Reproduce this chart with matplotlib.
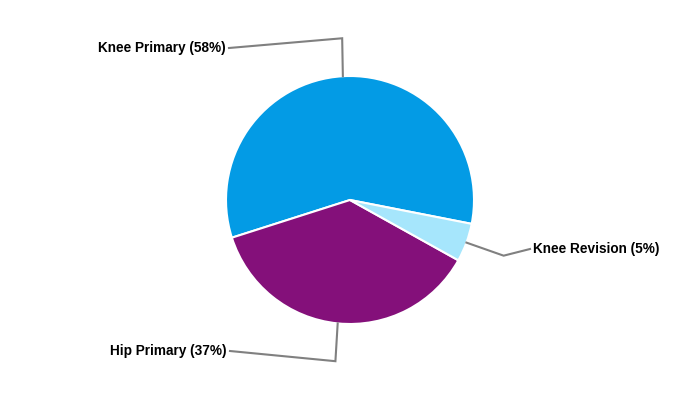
import numpy as np
import matplotlib
matplotlib.use("Agg")
import matplotlib.pyplot as plt

labels = ["Knee Primary", "Hip Primary", "Knee Revision"]
shares = [58, 37, 5]
colors = ["#039be5", "#84107a", "#a6e6fc"]
# label anchor (pixels from top-left) and alignment
label_pos = [(229, 48), (230, 351), (530, 249)]
label_ha = ["right", "right", "left"]

W, H = 700, 400
cx, cy, r = 350, 200, 124
start = -11.1

fig = plt.figure(figsize=(W / 100, H / 100), dpi=100)
ax = fig.add_axes([0, 0, 1, 1])

wedges, _ = ax.pie(shares, colors=colors, startangle=start, counterclock=True,
                   center=(cx, H - cy), radius=r, frame=True,
                   wedgeprops=dict(edgecolor="white", linewidth=1.5))
ax.set_xlim(0, W)
ax.set_ylim(0, H)
ax.set_aspect("equal")
ax.axis("off")

for w, lab, val, (lx, ly), ha in zip(wedges, labels, shares, label_pos, label_ha):
    mid = np.deg2rad((w.theta1 + w.theta2) / 2)
    x0 = cx + r * np.cos(mid)
    y0 = (H - cy) + r * np.sin(mid)
    x1 = cx + 162 * np.cos(mid) + 1.5
    y1 = (H - cy) + 162 * np.sin(mid)
    ax.plot([x0, x1, lx], [y0, y1, H - ly], color="#808080", lw=1.5,
            solid_joinstyle="miter", zorder=1)
    tx = lx - 3 if ha == "right" else lx + 3
    ax.text(tx, H - ly, f"{lab} ({val}%)", ha=ha, va="center",
            fontsize=9.8, fontweight="bold", family="Liberation Sans", color="black")

fig.savefig("out.png", dpi=100)
